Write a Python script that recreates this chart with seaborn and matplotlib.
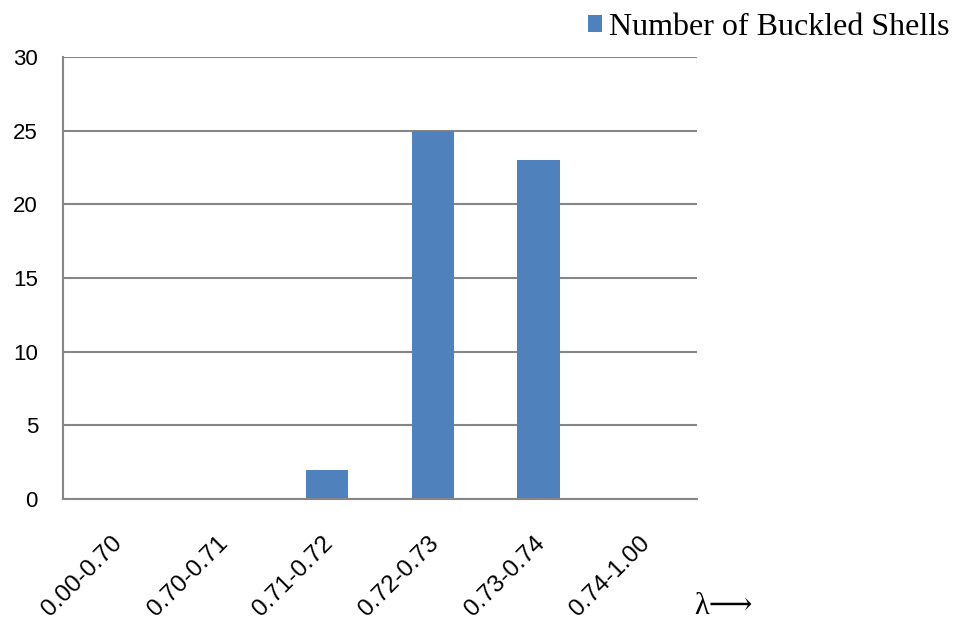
import matplotlib
matplotlib.use("Agg")
import matplotlib.pyplot as plt
import matplotlib.transforms as mtransforms
import seaborn as sns
import pandas as pd

categories = ["0.00-0.70", "0.70-0.71", "0.71-0.72", "0.72-0.73", "0.73-0.74", "0.74-1.00"]
buckled = [0, 0, 2, 25, 23, 0]
series_name = "Number of Buckled Shells"
y_ticks = [0, 5, 10, 15, 20, 25, 30]

df = pd.DataFrame({"range": categories, "count": buckled, "series": series_name})

sns.set_theme(style="white")
plt.rcParams["font.family"] = ["Liberation Sans", "DejaVu Sans"]
plt.rcParams["text.color"] = "black"
plt.rcParams["xtick.color"] = "black"
plt.rcParams["ytick.color"] = "black"

fig = plt.figure(figsize=(9.54, 6.24), dpi=100)
ax = fig.add_axes([63/954, 1-499/624, (697-63)/954, (499-57)/624])

sns.barplot(data=df, x="range", y="count", hue="series", palette=["#4F81BD"],
            width=0.4, ax=ax, saturation=1, legend=True, linewidth=0, edgecolor="none")

ax.set_ylim(0, 30)
ax.set_xlim(-0.5, len(categories) - 0.5)
ax.set_yticks(y_ticks)
ax.set_yticklabels([str(v) for v in y_ticks], fontsize=16, color="black")
ax.yaxis.grid(True, color="#868686", linewidth=1.5)
ax.set_axisbelow(True)
ax.set_xlabel("")
ax.set_ylabel("")
for s in ["top", "right"]:
    ax.spines[s].set_visible(False)
for s in ["left", "bottom"]:
    ax.spines[s].set_color("#868686")
    ax.spines[s].set_linewidth(1.5)
ax.tick_params(axis="x", length=0, pad=24)
ax.tick_params(axis="y", length=0, pad=18)
ax.set_xticks(range(len(categories)))
ax.set_xticklabels(categories, rotation=45, ha="right", rotation_mode="anchor",
                   fontsize=17.5, color="black")
offset = mtransforms.ScaledTranslation(-5/100, 0, fig.dpi_scale_trans)
for lbl in ax.get_xticklabels():
    lbl.set_transform(lbl.get_transform() + offset)

leg = ax.legend(loc="upper right", bbox_to_anchor=(978/954, 1.025), bbox_transform=fig.transFigure,
                frameon=False, handlelength=0.45, handleheight=0.45, handletextpad=0.2,
                prop={"family": "Liberation Serif", "size": 23})
for t in leg.get_texts():
    t.set_color("black")

fig.text(694/954, 1-621/624, "λ⟶", family=["Liberation Serif", "DejaVu Serif"],
         fontsize=22, ha="left", va="bottom", color="black")

fig.savefig("out.png", dpi=100)
